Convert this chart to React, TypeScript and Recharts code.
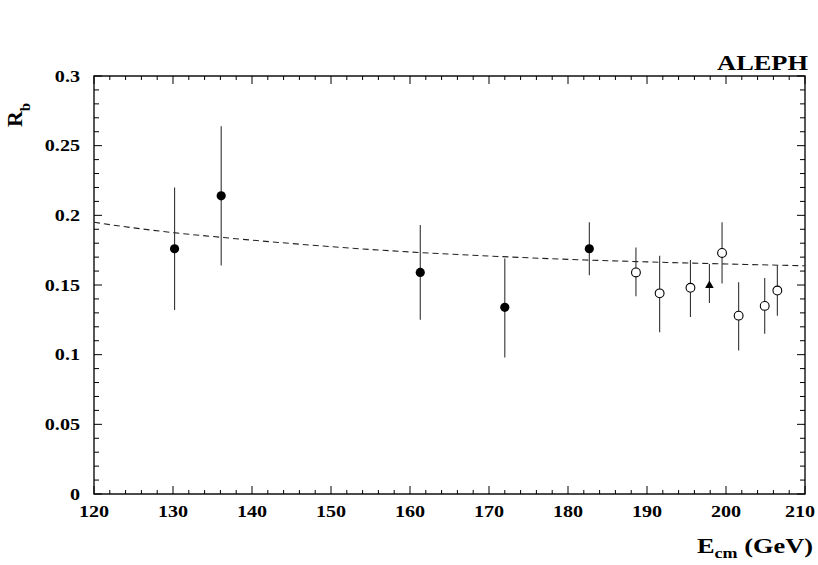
import React from "react";
import {
  ComposedChart,
  XAxis,
  YAxis,
  Scatter,
  Line,
  ErrorBar,
  ReferenceArea,
} from "recharts";

// ---- data ----
const filledE = [130.2, 136.1, 161.3, 172.0, 182.7];
const filledR = [0.176, 0.214, 0.159, 0.134, 0.176];
const filledErrLo = [0.044, 0.05, 0.034, 0.036, 0.019];
const filledErrHi = [0.044, 0.05, 0.034, 0.035, 0.019];

const openE = [188.6, 191.6, 195.5, 199.5, 201.6, 204.9, 206.5];
const openR = [0.159, 0.144, 0.148, 0.173, 0.128, 0.135, 0.146];
const openErrLo = [0.017, 0.028, 0.021, 0.022, 0.025, 0.02, 0.018];
const openErrHi = [0.018, 0.027, 0.02, 0.022, 0.024, 0.02, 0.018];

const triE = [197.9];
const triR = [0.15];
const triErrLo = [0.013];
const triErrHi = [0.015];

const curveE = [120, 125, 130, 135, 140, 150, 160, 170, 180, 190, 200, 210];
const curveR = [0.195, 0.191, 0.1876, 0.1848, 0.1822, 0.1775, 0.1737, 0.1708, 0.1684, 0.1666, 0.1651, 0.1638];

const xMajorTicks = [120, 130, 140, 150, 160, 170, 180, 190, 200, 210];
const yMajorTicks = [0, 0.05, 0.1, 0.15, 0.2, 0.25, 0.3];

const xTicks: number[] = [];
for (let v = 120; v <= 210; v += 2) xTicks.push(v);
const yTicks: number[] = [];
for (let i = 0; i <= 30; i++) yTicks.push(i / 100);

const mk = (E: number[], R: number[], lo: number[], hi: number[]) =>
  E.map((x, i) => ({ x, y: R[i], err: [lo[i], hi[i]] }));

const filledData = mk(filledE, filledR, filledErrLo, filledErrHi);
const openData = mk(openE, openR, openErrLo, openErrHi);
const triData = mk(triE, triR, triErrLo, triErrHi);
const allData = [...filledData, ...openData, ...triData];
const curveData = curveE.map((x, i) => ({ x, y: curveR[i] }));

// ---- layout ----
const W = 818;
const H = 565;
const MARGIN = { top: 76, right: 13, bottom: 41, left: 34 };
const X_AXIS_H = 30;
const Y_AXIS_W = 60;
const PLOT_TOP = MARGIN.top;
const PLOT_RIGHT = W - MARGIN.right;
const FONT = "'Liberation Serif', 'Times New Roman', 'DejaVu Serif', serif";
const INK = "#000";

const SText = ({ x, y, anchor, size, sx = 1.15, children }: any) => (
  <text
    transform={`translate(${x},${y}) scale(${sx},1)`}
    textAnchor={anchor}
    fontSize={size}
    fontWeight="bold"
    style={{ fontFamily: FONT }}
    fill={INK}
  >
    {children}
  </text>
);

const isXMajor = (v: number) => xMajorTicks.includes(v);
const isYMajor = (v: number) => yMajorTicks.some((m) => Math.abs(m - v) < 1e-9);

const XTick = (props: any) => {
  const { x, y, payload } = props;
  const v = payload.value;
  const major = isXMajor(v);
  const len = major ? 8 : 4;
  const lx = Math.min(x, PLOT_RIGHT - 5);
  return (
    <g>
      <line x1={x} x2={x} y1={y} y2={y - len} stroke={INK} strokeWidth={1} />
      <line x1={x} x2={x} y1={PLOT_TOP} y2={PLOT_TOP + len} stroke={INK} strokeWidth={1} />
      {major && (
        <SText x={lx} y={y + 23} anchor="middle" size={17.5}>
          {String(v)}
        </SText>
      )}
    </g>
  );
};

const YTick = (props: any) => {
  const { x, y, payload } = props;
  const v = payload.value;
  const major = isYMajor(v);
  const len = major ? 8 : 5;
  return (
    <g>
      <line x1={x} x2={x + len} y1={y} y2={y} stroke={INK} strokeWidth={1} />
      <line x1={PLOT_RIGHT} x2={PLOT_RIGHT - len} y1={y} y2={y} stroke={INK} strokeWidth={1} />
      {major && (
        <SText x={x - 14} y={y + 5.5} anchor="end" size={17.5}>
          {String(Math.round(v * 100) / 100)}
        </SText>
      )}
    </g>
  );
};

const FilledDot = (p: any) => <circle cx={p.cx} cy={p.cy} r={4.6} fill={INK} />;
const OpenDot = (p: any) => (
  <circle cx={p.cx} cy={p.cy} r={4.4} fill="#fff" stroke={INK} strokeWidth={1.1} />
);
const TriDot = (p: any) => (
  <path
    d={`M${p.cx},${p.cy - 4.5} L${p.cx + 4.3},${p.cy + 3} L${p.cx - 4.3},${p.cy + 3} Z`}
    fill={INK}
  />
);
const NoDot = () => <g />;

export default function App() {
  return (
    <div style={{ position: "absolute", left: 0, top: 0, width: W, height: H, background: "#fff" }}>
      <ComposedChart width={W} height={H} margin={MARGIN}>
        <XAxis
          dataKey="x"
          type="number"
          domain={[120, 210]}
          allowDataOverflow
          ticks={xTicks}
          interval={0}
          tickSize={0}
          tickMargin={0}
          tickLine={false}
          axisLine={false}
          height={X_AXIS_H}
          tick={<XTick />}
        />
        <YAxis
          dataKey="y"
          type="number"
          domain={[0, 0.3]}
          allowDataOverflow
          ticks={yTicks}
          interval={0}
          tickSize={0}
          tickMargin={0}
          tickLine={false}
          axisLine={false}
          width={Y_AXIS_W}
          tick={<YTick />}
        />
        <ReferenceArea
          x1={120}
          x2={210}
          y1={0}
          y2={0.3}
          fill="none"
          fillOpacity={0}
          stroke="#111"
          strokeWidth={1.4}
          ifOverflow="visible"
        />
        <Line
          data={curveData}
          dataKey="y"
          type="monotone"
          stroke="#222"
          strokeWidth={1.1}
          strokeDasharray="6 4"
          dot={false}
          activeDot={false}
          isAnimationActive={false}
        />
        <Scatter data={allData} dataKey="y" shape={<NoDot />} isAnimationActive={false}>
          <ErrorBar dataKey="err" direction="y" width={0} stroke="#333" strokeWidth={1.1} isAnimationActive={false} />
        </Scatter>
        <Scatter data={filledData} dataKey="y" shape={<FilledDot />} isAnimationActive={false} />
        <Scatter data={openData} dataKey="y" shape={<OpenDot />} isAnimationActive={false} />
        <Scatter data={triData} dataKey="y" shape={<TriDot />} isAnimationActive={false} />
      </ComposedChart>
      <svg
        width={W}
        height={H}
        style={{ position: "absolute", left: 0, top: 0, pointerEvents: "none" }}
      >
        <SText x={808} y={70} anchor="end" size={22} sx={1.2}>
          ALEPH
        </SText>
        <text
          transform="translate(22,115) rotate(-90)"
          textAnchor="middle"
          fontSize={22}
          fontWeight="bold"
          style={{ fontFamily: FONT }}
          fill={INK}
        >
          R
          <tspan fontSize={15} dy={8}>
            b
          </tspan>
        </text>
        <SText x={813} y={553} anchor="end" size={22} sx={1.2}>
          E
          <tspan fontSize={15} dy={5}>
            cm
          </tspan>
          <tspan dy={-5}> (GeV)</tspan>
        </SText>
      </svg>
    </div>
  );
}
